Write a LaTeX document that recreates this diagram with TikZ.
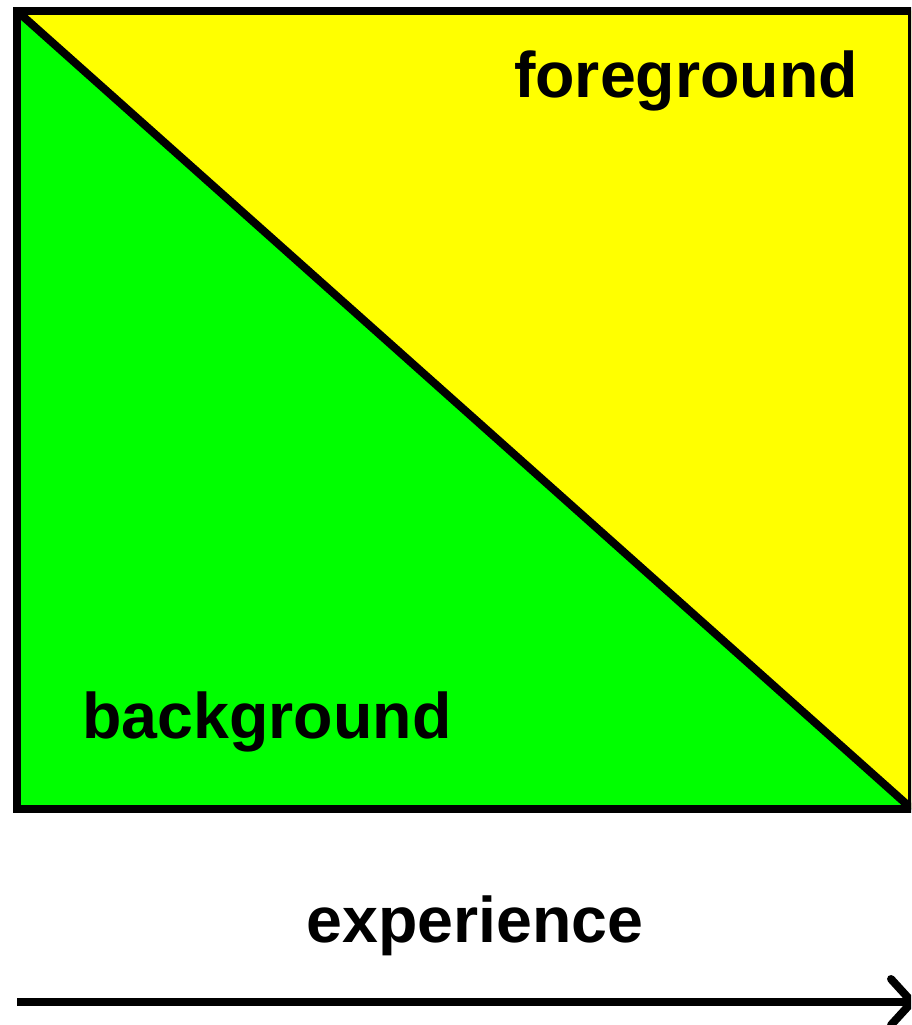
\documentclass[tikz,border=0pt]{standalone}
\usepackage{fontspec}
\setmainfont{Liberation Sans}
\usetikzlibrary{arrows.meta}
\definecolor{fgyellow}{RGB}{255,255,0}
\definecolor{bggreen}{RGB}{0,255,0}
\begin{document}
\begin{tikzpicture}[x=1pt,y=-1pt,
  edge/.style={line width=8pt, line join=miter},
  lbl/.style={font=\fontsize{64.5}{70}\selectfont\bfseries, inner sep=0pt, anchor=base}]
\useasboundingbox (0,0) rectangle (911,1025);
\begin{scope}
\clip (0,0) rectangle (911,1025);
\coordinate (tl) at (17,11);
\coordinate (tr) at (912,11);
\coordinate (br) at (912,809);
\coordinate (bl) at (17,809);
\fill[fgyellow] (tl) -- (tr) -- (br) -- cycle;
\fill[bggreen] (tl) -- (br) -- (bl) -- cycle;
\draw[edge] (tl) -- (tr) -- (br) -- (bl) -- cycle;
\draw[edge] (tl) -- (br);
\node[lbl] (fg) at (686,97) {foreground};
\node[lbl] (bg) at (267,738) {background};
\node[lbl] (ex) at (475,942) {experience};
\coordinate (as) at (17,1002);
\coordinate (ae) at (916,1002);
\draw[line width=8pt, -{Straight Barb[length=21pt,width=46pt,round]}] (as) -- (ae);
\end{scope}
\end{tikzpicture}
\end{document}
